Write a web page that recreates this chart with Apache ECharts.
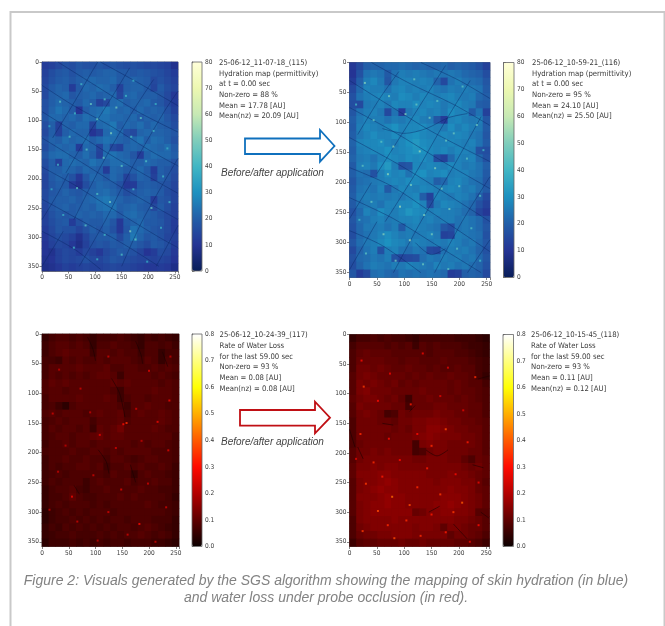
<!DOCTYPE html>
<html><head><meta charset="utf-8">
<style>html,body{margin:0;padding:0;background:#fff}#c{width:665px;height:626px;filter:blur(0.4px)}</style>
<script src="https://cdn.jsdelivr.net/npm/echarts@6/dist/echarts.min.js"></script>
</head><body><div id="c"></div>
<script>
const xTicks=[0,50,100,150,200,250];
const hyd115=[
[12,13,15,17,16,18,17,17,18,17,18,17,16,17,16,15,15,14,13,9],
[13,16,18,19,17,19,20,19,20,21,21,19,19,18,19,18,17,16,14,12],
[14,17,19,20,18,20,21,22,21,21,22,19,20,21,20,19,15,17,15,13],
[15,19,21,20,12,19,22,21,23,22,20,13,20,21,21,19,14,19,16,14],
[15,20,21,22,18,20,21,22,20,21,22,14,21,22,20,20,20,18,15,11],
[17,20,22,21,20,19,22,20,13,15,22,23,20,21,21,22,19,18,15,12],
[17,21,24,22,19,10,20,22,23,25,23,21,22,20,22,20,21,20,17,13],
[18,22,22,21,22,20,23,22,24,24,22,22,21,22,19,21,20,21,18,15],
[16,20,13,21,20,22,22,14,22,23,25,20,22,21,23,20,22,20,19,16],
[15,20,13,20,22,21,21,10,13,22,24,22,17,15,21,22,21,21,20,18],
[17,21,20,23,21,22,23,20,22,24,23,21,20,22,24,20,23,22,20,17],
[16,20,22,21,22,12,22,21,14,22,15,13,21,22,21,23,22,21,23,19],
[18,22,23,23,21,20,23,20,13,23,24,22,21,18,12,21,23,22,22,20],
[16,20,13,22,23,22,21,24,22,21,23,23,22,20,20,22,21,20,20,17],
[15,20,20,22,21,19,22,21,20,12,22,21,19,20,22,19,12,20,18,16],
[14,19,21,20,17,11,18,22,21,19,22,20,13,17,21,20,13,20,18,15],
[14,18,20,19,12,9,16,20,22,21,20,17,11,12,19,20,19,18,17,14],
[15,18,19,21,19,18,20,21,22,23,21,19,16,18,20,21,20,19,16,14],
[15,19,20,20,21,19,21,22,24,25,23,21,19,20,21,20,12,18,17,14],
[14,18,20,21,19,20,21,20,23,24,24,20,21,22,20,19,15,19,16,13],
[13,17,19,18,19,21,20,21,20,22,22,19,22,23,21,20,19,17,15,13],
[13,16,18,19,12,17,20,19,19,21,18,11,19,21,22,19,19,18,15,12],
[12,15,18,17,17,14,17,20,18,20,17,11,18,24,22,20,18,17,15,12],
[11,14,16,15,13,9,14,18,19,19,20,15,20,25,21,18,19,17,14,13],
[10,13,15,14,11,8,13,17,18,17,19,18,20,20,18,16,19,18,16,12],
[10,9,13,15,14,12,15,13,11,15,17,19,18,17,14,10,12,16,15,11],
[9,10,13,15,14,15,17,15,14,16,18,17,16,15,14,14,13,14,13,10],
[8,9,11,13,12,13,14,13,13,14,15,14,14,13,12,11,11,12,11,8]];
const hyd116=[
[11,15,20,21,21,22,22,23,22,21,22,21,21,22,20,21,20,19,17,13],
[10,17,24,25,24,19,24,26,25,26,25,24,25,24,25,24,22,21,20,16],
[12,20,26,28,25,18,25,27,27,26,27,26,21,15,24,26,24,23,22,18],
[15,22,27,26,26,24,27,28,26,27,26,27,25,24,26,25,26,25,24,19],
[17,24,26,27,28,27,26,29,28,26,28,27,26,27,28,26,25,26,22,20],
[16,15,25,26,27,25,28,27,27,29,27,28,27,25,27,28,26,25,20,19],
[18,24,26,27,25,15,24,12,25,27,28,26,27,25,29,27,27,19,24,13],
[20,25,27,26,26,24,26,25,27,28,26,25,18,12,27,28,26,25,26,18],
[19,26,28,27,26,28,30,27,28,28,29,27,26,25,29,26,28,26,25,19],
[20,25,27,29,27,27,29,27,29,30,28,27,27,28,27,28,27,25,24,18],
[21,27,28,28,29,27,26,28,30,32,29,28,27,27,28,27,26,27,24,19],
[20,26,27,28,28,30,27,28,29,31,30,28,27,28,26,28,27,26,17,16],
[21,25,26,24,27,29,28,27,29,28,29,27,16,13,22,27,26,27,22,17],
[19,26,27,25,29,32,26,17,18,28,27,28,27,26,28,27,25,26,24,20],
[20,24,23,17,26,29,27,28,24,29,30,27,28,29,26,27,27,25,24,19],
[18,23,24,25,26,27,28,27,29,28,27,26,20,22,27,28,26,24,23,18],
[19,24,25,24,27,19,25,28,27,26,28,27,26,27,28,27,25,26,23,19],
[20,25,26,25,26,25,26,25,27,28,20,13,27,26,25,27,26,24,20,15],
[19,24,25,26,24,27,27,28,28,30,27,16,25,28,27,26,24,22,17,13],
[17,22,27,25,29,27,26,28,31,29,28,26,27,26,26,25,23,21,14,11],
[18,23,24,26,27,25,26,27,27,28,26,27,25,26,26,24,25,24,22,17],
[17,22,25,25,26,24,26,19,26,27,26,25,24,18,16,24,25,24,22,18],
[16,22,24,25,27,29,27,25,26,25,26,27,25,13,14,26,25,24,23,17],
[18,23,25,26,28,30,28,27,25,27,26,25,26,25,27,26,24,25,22,18],
[15,21,24,26,17,26,27,24,23,25,24,15,14,24,26,25,26,24,21,17],
[17,22,23,25,24,26,17,14,15,16,23,25,24,26,25,26,24,25,22,18],
[16,21,24,26,25,24,26,25,27,26,25,24,27,25,26,24,25,23,21,17],
[18,12,15,23,24,22,21,24,23,24,23,24,23,22,12,13,20,21,20,15]];
const twl117=[
[.05,.07,.08,.08,.07,.08,.07,.05,.07,.07,.07,.08,.07,.06,.05,.07,.06,.07,.06,.05],
[.06,.08,.09,.09,.08,.09,.08,.05,.08,.08,.09,.08,.08,.07,.05,.08,.08,.07,.08,.06],
[.06,.08,.09,.10,.09,.09,.09,.06,.09,.09,.08,.09,.08,.08,.06,.08,.08,.05,.07,.07],
[.07,.07,.06,.09,.08,.09,.08,.08,.09,.08,.09,.09,.09,.08,.07,.09,.08,.05,.08,.07],
[.07,.09,.09,.09,.09,.10,.09,.09,.09,.10,.08,.08,.09,.09,.08,.08,.09,.08,.09,.08],
[.07,.09,.08,.09,.08,.09,.08,.09,.10,.10,.09,.06,.09,.09,.09,.09,.08,.09,.08,.07],
[.08,.10,.09,.10,.09,.09,.09,.09,.09,.09,.10,.09,.10,.09,.09,.09,.09,.08,.09,.08],
[.08,.09,.09,.08,.09,.09,.09,.09,.09,.09,.08,.06,.09,.09,.09,.09,.10,.09,.09,.08],
[.07,.09,.09,.09,.09,.10,.09,.09,.09,.10,.09,.06,.08,.09,.09,.08,.09,.09,.09,.08],
[.07,.08,.06,.04,.08,.09,.09,.09,.09,.09,.09,.08,.06,.09,.09,.10,.09,.09,.08,.08],
[.08,.09,.08,.09,.09,.09,.08,.09,.10,.09,.09,.10,.07,.09,.10,.09,.09,.10,.09,.08],
[.07,.08,.09,.08,.09,.09,.09,.07,.09,.09,.09,.10,.08,.09,.09,.09,.09,.10,.09,.08],
[.07,.09,.08,.09,.09,.08,.09,.06,.10,.09,.10,.12,.09,.09,.09,.09,.10,.09,.08,.08],
[.07,.08,.09,.09,.08,.09,.09,.10,.11,.09,.10,.10,.09,.09,.09,.09,.09,.09,.09,.07],
[.06,.08,.08,.09,.08,.09,.09,.08,.09,.09,.09,.09,.09,.08,.09,.08,.09,.09,.08,.07],
[.07,.08,.08,.08,.09,.08,.08,.09,.09,.08,.09,.08,.09,.09,.09,.09,.08,.08,.08,.07],
[.06,.08,.08,.09,.08,.08,.09,.08,.08,.07,.09,.09,.08,.07,.08,.09,.09,.08,.08,.07],
[.06,.08,.07,.08,.08,.09,.09,.08,.09,.06,.08,.08,.09,.08,.09,.08,.08,.09,.08,.06],
[.06,.07,.08,.07,.08,.08,.08,.08,.08,.07,.09,.08,.08,.05,.08,.09,.08,.08,.07,.06],
[.06,.08,.07,.08,.08,.08,.06,.08,.09,.08,.08,.08,.09,.07,.08,.08,.09,.08,.08,.06],
[.05,.07,.08,.08,.09,.07,.06,.08,.08,.09,.08,.08,.08,.08,.09,.08,.08,.07,.07,.06],
[.05,.07,.07,.08,.10,.08,.07,.07,.08,.08,.08,.09,.08,.09,.08,.08,.08,.08,.07,.05],
[.05,.07,.08,.07,.08,.08,.08,.07,.08,.07,.08,.08,.08,.08,.08,.09,.08,.07,.07,.06],
[.04,.06,.07,.08,.07,.08,.07,.08,.08,.08,.07,.08,.08,.08,.08,.08,.08,.08,.07,.06],
[.04,.06,.07,.07,.08,.07,.08,.07,.08,.07,.08,.08,.07,.08,.08,.08,.07,.07,.07,.05],
[.05,.07,.06,.08,.07,.08,.07,.08,.07,.08,.07,.08,.08,.07,.08,.09,.08,.07,.06,.05],
[.05,.06,.07,.07,.08,.07,.07,.07,.08,.07,.08,.07,.08,.08,.09,.08,.07,.08,.07,.05],
[.04,.06,.06,.06,.07,.06,.07,.06,.07,.06,.07,.07,.06,.07,.07,.07,.06,.06,.05,.04]];
const twl118=[
[.05,.07,.07,.08,.07,.08,.07,.07,.06,.05,.07,.07,.07,.07,.07,.06,.06,.06,.05,.04],
[.07,.09,.09,.09,.09,.08,.09,.08,.09,.06,.09,.08,.09,.08,.08,.08,.07,.06,.06,.05],
[.08,.10,.11,.10,.10,.10,.09,.09,.09,.09,.09,.08,.09,.09,.09,.08,.08,.07,.06,.05],
[.08,.11,.11,.11,.11,.10,.10,.09,.10,.10,.09,.09,.09,.10,.09,.09,.09,.08,.07,.06],
[.08,.12,.12,.11,.12,.11,.10,.10,.11,.10,.10,.09,.10,.09,.09,.10,.09,.09,.07,.06],
[.09,.12,.13,.12,.11,.11,.11,.11,.10,.11,.10,.11,.10,.10,.11,.10,.10,.09,.07,.05],
[.09,.13,.12,.13,.12,.11,.12,.10,.11,.10,.11,.11,.11,.11,.10,.11,.10,.09,.09,.07],
[.09,.13,.14,.12,.12,.12,.11,.11,.11,.11,.12,.11,.11,.11,.10,.11,.10,.10,.09,.08],
[.10,.12,.13,.13,.12,.11,.12,.10,.06,.11,.11,.12,.11,.11,.11,.10,.11,.10,.09,.08],
[.09,.13,.12,.12,.12,.12,.11,.11,.07,.11,.11,.11,.12,.12,.11,.11,.11,.10,.10,.08],
[.09,.12,.13,.12,.11,.07,.08,.12,.11,.12,.12,.12,.13,.12,.12,.11,.11,.10,.10,.08],
[.08,.12,.12,.12,.11,.11,.10,.12,.12,.13,.13,.14,.14,.13,.12,.12,.11,.11,.10,.09],
[.08,.12,.12,.12,.12,.12,.11,.12,.11,.13,.13,.15,.15,.14,.13,.12,.12,.11,.11,.09],
[.08,.12,.12,.12,.12,.11,.12,.12,.12,.13,.14,.15,.14,.13,.13,.13,.12,.12,.11,.09],
[.08,.11,.12,.12,.12,.12,.12,.12,.12,.07,.13,.14,.13,.13,.12,.12,.12,.12,.11,.09],
[.09,.12,.12,.13,.12,.13,.12,.12,.12,.07,.08,.12,.13,.13,.12,.12,.12,.11,.11,.09],
[.09,.12,.13,.13,.13,.13,.13,.13,.13,.12,.12,.13,.13,.13,.12,.12,.10,.08,.11,.10],
[.10,.13,.13,.14,.13,.14,.14,.13,.13,.13,.13,.13,.13,.13,.13,.13,.12,.11,.12,.10],
[.10,.14,.14,.14,.15,.15,.14,.14,.14,.14,.14,.13,.13,.13,.14,.13,.13,.12,.11,.10],
[.09,.13,.14,.14,.15,.16,.15,.14,.14,.14,.14,.14,.13,.14,.14,.14,.13,.13,.11,.09],
[.09,.13,.14,.15,.16,.15,.15,.14,.14,.14,.14,.14,.14,.14,.15,.14,.14,.13,.11,.10],
[.09,.14,.14,.14,.15,.16,.15,.15,.14,.14,.14,.14,.14,.15,.15,.15,.14,.13,.12,.10],
[.09,.13,.14,.15,.15,.16,.15,.15,.14,.14,.14,.14,.15,.15,.16,.15,.14,.13,.12,.10],
[.09,.13,.14,.15,.15,.15,.15,.15,.15,.11,.12,.14,.14,.15,.15,.14,.14,.13,.09,.09],
[.08,.13,.14,.14,.14,.14,.15,.14,.14,.14,.14,.14,.14,.14,.14,.13,.13,.12,.11,.09],
[.08,.12,.13,.14,.14,.14,.14,.14,.14,.13,.14,.14,.13,.10,.13,.13,.12,.11,.11,.09],
[.08,.11,.12,.12,.13,.13,.14,.14,.14,.13,.13,.13,.13,.13,.10,.12,.12,.11,.10,.08],
[.06,.09,.10,.10,.11,.11,.11,.12,.11,.11,.12,.11,.11,.11,.11,.10,.10,.09,.08,.06]];
const cracks115=[
[[0,40],[60,75],[130,110],[200,150],[256,178]],
[[0,85],[70,125],[140,165],[256,225]],
[[0,130],[80,175],[150,215],[256,270]],
[[0,180],[60,210],[130,250],[220,300],[256,318]],
[[0,235],[70,270],[150,310],[220,350]],
[[30,0],[100,40],[180,85],[256,120]],
[[110,0],[180,35],[256,75]],
[[0,290],[60,320],[110,355]],
[[20,130],[60,70],[95,15],[105,0]],
[[45,190],[90,120],[135,55],[165,10]],
[[60,270],[110,180],[160,100],[210,30]],
[[70,350],[120,270],[170,180],[230,85],[256,50]],
[[150,350],[190,270],[256,165]],
[[215,350],[256,280]],
[[0,270],[30,225],[50,190]],
[[0,350],[40,290]]];
const cracks116=[
[[0,30],[70,70],[150,115],[256,165]],
[[0,75],[80,115],[170,165],[256,210]],
[[0,125],[90,170],[170,215],[256,265]],
[[0,175],[75,205],[150,250],[256,315]],
[[0,225],[80,260],[160,305],[240,350]],
[[0,280],[60,305],[130,350]],
[[40,0],[110,35],[190,70],[256,105]],
[[130,0],[200,30],[256,60]],
[[60,110],[100,118],[140,110],[180,92],[215,85]],
[[120,300],[150,320],[175,310]],
[[15,120],[55,60],[90,15]],
[[50,185],[95,120],[140,55],[175,5]],
[[65,265],[120,185],[170,105],[220,30]],
[[80,350],[130,265],[185,180],[240,90]],
[[155,350],[205,265],[256,190]],
[[0,260],[40,200]],
[[0,345],[50,265]],
[[215,350],[256,295]]];
const cracks117=[
[[85,5],[95,25],[100,45]],[[175,12],[185,35],[188,50]],[[225,30],[235,55]],
[[130,75],[145,100],[155,140]],[[105,195],[120,215],[125,235]],[[165,220],[175,250]],[[60,255],[70,270]]];
const cracks118=[
[[140,195],[160,205],[180,195]],[[225,220],[245,225]],[[145,300],[165,290]],[[240,300],[255,310]],
[[120,120],[110,130]],[[60,150],[80,153]],[[190,320],[215,345]],[[15,190],[25,210]],[[235,75],[256,70]],[[0,160],[10,190]]];
const spots115=[[34,68,44],[62,88,40],[92,72,46],[140,78,48],[118,64,42],[158,58,40],[186,96,44],[104,98,46],[130,122,50],[168,128,42],[210,118,40],[236,148,38],[52,128,42],[84,150,44],[30,176,40],[116,164,46],[150,178,44],[196,170,42],[228,196,40],[66,216,44],[104,226,42],[128,240,48],[172,218,40],[206,250,46],[40,262,38],[82,280,44],[118,296,40],[166,290,50],[176,304,46],[224,284,38],[60,318,40],[104,338,38],[150,330,42],[198,342,36],[18,218,36],[240,240,40],[74,38,40],[172,32,38],[214,72,38],[14,110,36]];
const spots116=[[28,34,50],[72,56,48],[118,28,46],[160,64,44],[206,40,44],[44,96,46],[102,86,50],[146,92,48],[232,104,46],[80,140,52],[128,148,54],[176,130,46],[214,160,44],[24,172,44],[70,186,52],[112,204,48],[156,176,50],[200,206,46],[238,222,42],[40,232,46],[92,240,54],[136,254,50],[182,244,48],[222,276,42],[62,286,50],[110,296,54],[150,286,48],[196,310,44],[30,318,44],[84,330,48],[134,336,46],[180,344,44],[238,330,40],[18,262,40],[244,146,40],[12,70,40],[190,118,46],[58,132,44],[168,210,48],[122,70,46]];
const spots117=[[152,152,.3],[158,150,.34],[108,170,.26],[56,274,.28],[32,60,.22],[72,92,.24],[124,38,.24],[200,62,.26],[238,112,.28],[176,126,.24],[20,134,.24],[90,132,.22],[216,148,.28],[44,188,.22],[138,192,.24],[186,180,.22],[236,196,.26],[96,238,.24],[148,262,.26],[198,252,.24],[30,232,.22],[124,300,.24],[66,316,.24],[182,320,.3],[232,292,.24],[160,338,.24],[14,296,.22],[212,350,.24],[104,348,.22],[240,38,.22]];
const spots118=[[26,88,.36],[22,44,.3],[74,66,.28],[134,32,.28],[180,56,.26],[230,72,.34],[52,112,.3],[112,118,.32],[166,104,.26],[208,128,.26],[20,168,.34],[72,176,.3],[124,168,.3],[176,160,.38],[216,182,.32],[44,216,.34],[92,212,.3],[150,188,.34],[194,236,.3],[236,250,.28],[30,252,.36],[78,274,.42],[124,258,.34],[166,270,.36],[206,284,.4],[52,298,.38],[104,314,.34],[150,304,.32],[190,300,.36],[236,322,.3],[24,332,.36],[82,344,.38],[130,340,.34],[176,334,.32],[220,350,.28],[12,210,.26],[60,240,.32],[110,288,.38],[142,226,.32],[70,322,.34]];
const info115=["25-06-12_11-07-18_(115)","Hydration map (permittivity)","at t = 0.00 sec","Non-zero = 88 %","Mean = 17.78 [AU]","Mean(nz) = 20.09 [AU]"];
const info116=["25-06-12_10-59-21_(116)","Hydration map (permittivity)","at t = 0.00 sec","Non-zero = 95 %","Mean = 24.10 [AU]","Mean(nz) = 25.50 [AU]"];
const info117=["25-06-12_10-24-39_(117)","Rate of Water Loss","for the last 59.00 sec","Non-zero = 93 %","Mean = 0.08 [AU]","Mean(nz) = 0.08 [AU]"];
const info118=["25-06-12_10-15-45_(118)","Rate of Water Loss","for the last 59.00 sec","Non-zero = 93 %","Mean = 0.11 [AU]","Mean(nz) = 0.12 [AU]"];
const caption="Figure 2: Visuals generated by the SGS algorithm showing the mapping of skin hydration (in blue)\nand water loss under probe occlusion (in red).";
const arrowLabel="Before/after application";

const YGB=['#081d58','#253494','#225ea8','#1d91c0','#41b6c4','#7fcdbb','#c7e9b4','#edf8b1','#ffffd9'];
const HOT=['#0b0000','#5e0000','#b30000','#ff0a00','#ff5a00','#ffae00','#ffff05','#ffff80','#ffffff'];
const FONT='"DejaVu Sans Condensed","DejaVu Sans",sans-serif';
const TXT='#3a3a3a', AX='#666';
const panels=[
 {d:hyd115,cr:cracks115,sp:spots115,crc:'#0a2466',cro:.55,bg:'#1f5aa0',info:info115,g:[42,62,136,209],cb:[192,62,10,209],tx:219,ty:57.5,max:80,itv:10,col:YGB,fmt:v=>v},
 {d:hyd116,cr:cracks116,sp:spots116,crc:'#0a2466',cro:.55,bg:'#2272b0',info:info116,g:[349.5,62.5,140.5,215],cb:[503.5,62.5,10.5,215],tx:532,ty:57.5,max:80,itv:10,col:YGB,fmt:v=>v},
 {d:twl117,cr:cracks117,sp:spots117,crc:'#1a0000',cro:.7,bg:'#4a0000',info:info117,g:[42,334,137,212.5],cb:[192,334,10,212.5],tx:219.5,ty:330,max:.8,itv:.1,col:HOT,fmt:v=>v.toFixed(1)},
 {d:twl118,cr:cracks118,sp:spots118,crc:'#1a0000',cro:.7,bg:'#6a0000',info:info118,g:[349.5,334.5,140,212],cb:[503,334.5,10.5,212],tx:531,ty:330,max:.8,itv:.1,col:HOT,fmt:v=>v.toFixed(1)}];
const grid=[],xAxis=[],yAxis=[],series=[],visualMap=[],graphic=[];
const lab={fontSize:6.5,color:TXT,fontFamily:FONT,margin:3};
const line={show:true,lineStyle:{color:AX,width:.8}};
const tick={show:true,length:2.5,lineStyle:{color:AX,width:.8}};
panels.forEach(p=>{
  const gi=grid.length;
  grid.push({left:p.g[0],top:p.g[1],width:p.g[2],height:p.g[3],show:true,borderColor:AX,borderWidth:.8,backgroundColor:p.bg,z:0});
  const xc=xAxis.length,yc=yAxis.length;
  xAxis.push({type:'category',gridIndex:gi,show:false,data:p.d[0].map((_,i)=>i)});
  yAxis.push({type:'category',gridIndex:gi,show:false,inverse:true,data:p.d.map((_,i)=>i)});
  xAxis.push({type:'value',gridIndex:gi,position:'bottom',min:0,max:256,interval:50,axisLine:line,axisTick:tick,axisLabel:{...lab,customValues:xTicks},splitLine:{show:false}});
  yAxis.push({type:'value',gridIndex:gi,position:'left',inverse:true,min:0,max:358,interval:50,axisLine:line,axisTick:tick,axisLabel:lab,splitLine:{show:false}});
  const data=[];p.d.forEach((r,y)=>r.forEach((v,x)=>data.push([x,y,v])));
  const si=series.length;
  series.push({type:'heatmap',xAxisIndex:xc,yAxisIndex:yc,data,progressive:0,silent:true,emphasis:{disabled:true},itemStyle:{borderWidth:0}});
  p.cr.forEach(c=>series.push({type:'line',xAxisIndex:xc+1,yAxisIndex:yc+1,data:c,symbol:'none',silent:true,smooth:.3,z:3,lineStyle:{color:p.crc,width:.8,opacity:p.cro}}));
  const sc=series.length;
  series.push({type:'scatter',xAxisIndex:xc+1,yAxisIndex:yc+1,data:p.sp,symbol:'rect',symbolSize:2,silent:true,z:4});
  visualMap.push({type:'continuous',seriesIndex:[si,sc],dimension:2,min:0,max:p.max,show:true,calculable:false,hoverLink:false,left:p.cb[0],top:p.cb[1],itemWidth:p.cb[2],itemHeight:p.cb[3],padding:0,text:null,showLabel:false,inRange:{color:p.col}});
  const gc=grid.length;
  grid.push({left:p.cb[0],top:p.cb[1],width:p.cb[2],height:p.cb[3],show:true,borderColor:AX,borderWidth:.8,backgroundColor:'transparent',z:5});
  xAxis.push({type:'value',gridIndex:gc,show:false,min:0,max:1});
  yAxis.push({type:'value',gridIndex:gc,position:'right',min:0,max:p.max,interval:p.itv,axisLine:line,axisTick:tick,axisLabel:{...lab,formatter:p.fmt},splitLine:{show:false}});
  graphic.push({type:'text',left:p.tx,top:p.ty,style:{text:p.info.join('\n'),font:'7.7px '+FONT,fill:TXT,lineHeight:10.7}});
});
const arrow=(pts,c)=>graphic.push({type:'polygon',shape:{points:pts},style:{fill:'#fff',stroke:c,lineWidth:1.8}});
arrow([[245,138.5],[320,138.5],[320,130],[334.5,146],[320,161.7],[320,154],[245,154]],'#0f70bd');
arrow([[240,410],[315,410],[315,401.7],[330,417.7],[315,433.3],[315,425.7],[240,425.7]],'#c00f14');
[[221,168.5],[221,437]].forEach(q=>graphic.push({type:'text',left:q[0],top:q[1],style:{text:arrowLabel,font:'italic 10px "Liberation Sans",Arial,sans-serif',fill:'#444'}}));
graphic.push({type:'rect',left:8,top:9.5,shape:{width:654,height:640},style:{fill:'none',stroke:'#c9c9c9',lineWidth:2},z:-1});
const chart=echarts.init(document.getElementById('c'),null,{renderer:'canvas'});
chart.setOption({animation:false,backgroundColor:'#fff',
 title:{text:caption,left:321,top:568,textAlign:'center',textStyle:{fontFamily:'"Liberation Sans",Arial,sans-serif',fontStyle:'italic',fontWeight:'normal',fontSize:14,lineHeight:16.5,color:'#828282'}},
 grid,xAxis,yAxis,series,visualMap,graphic});
</script></body></html>
